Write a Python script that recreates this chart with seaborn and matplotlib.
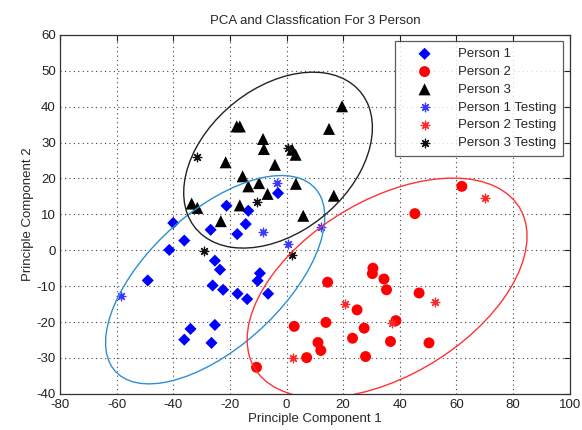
import numpy as np
import pandas as pd
import matplotlib
matplotlib.use("Agg")
import matplotlib.pyplot as plt
import seaborn as sns
from matplotlib.patches import Ellipse

# ---- data ----
p1_x = [-21.2, -13.5, -3.0, -40.0, -26.8, -14.4, -17.4, -36.1, -41.4, -25.3, -23.5, -9.4,
        -10.2, -49.0, -26.1, -22.4, -17.3, -13.9, -6.5, -33.9, -25.3, -36.1, -26.5]
p1_y = [12.4, 11.0, 15.9, 7.6, 5.7, 7.3, 4.5, 2.7, 0.1, -2.9, -5.4, -6.4,
        -8.5, -8.4, -9.8, -11.0, -12.1, -13.6, -12.1, -21.9, -20.8, -24.9, -25.8]

p2_x = [61.9, 45.3, 30.5, 30.3, 34.4, 35.3, 14.5, 46.8, 24.9, 2.7, 13.9, 38.6,
        27.4, 23.3, 36.7, 50.3, 11.1, 12.1, 7.1, 27.9, -10.6]
p2_y = [17.8, 10.2, -5.0, -6.5, -8.0, -11.0, -8.9, -11.9, -16.6, -21.2, -20.1, -19.6,
        -21.7, -24.5, -25.4, -25.8, -25.7, -27.9, -29.9, -29.6, -32.6]

p3_x = [-17.6, -16.5, -8.3, -8.0, 2.0, 3.2, -21.5, -4.1, -15.5, -13.5, -9.7, 3.3,
        -6.7, -33.5, -31.5, -16.5, 5.9, -23.2, 16.7, 19.6, 15.0]
p3_y = [34.5, 34.5, 31.0, 28.2, 28.0, 26.6, 24.5, 23.8, 20.6, 17.8, 18.7, 18.5,
        15.7, 13.0, 11.8, 12.5, 9.6, 8.1, 15.2, 40.1, 33.8]

t1_x = [-58.6, -3.5, -8.3, 12.0, 0.6]
t1_y = [-12.7, 18.7, 5.0, 6.6, 1.7]
t2_x = [69.9, 52.3, 20.8, 37.2, 2.3]
t2_y = [14.5, -14.5, -14.9, -20.3, -29.9]
t3_x = [-31.7, 0.4, -10.6, -29.1, 1.8]
t3_y = [26.0, 28.6, 13.4, -0.1, -1.4]

labels = ["Person 1", "Person 2", "Person 3",
          "Person 1 Testing", "Person 2 Testing", "Person 3 Testing"]

# ellipse parameters: centre x, centre y, width, height, angle (deg)
ell_cx = [-25.2, 35.5, -3.0]
ell_cy = [-8.2, -10.5, 25.1]
ell_w = [87.7, 104.4, 70.7]
ell_h = [40.8, 51.1, 42.9]
ell_ang = [32.1, 21.7, 24.9]
ell_col = ["#2b8fd6", "#ff3333", "#222222"]

x_ticks = list(range(-80, 101, 20))
y_ticks = list(range(-40, 61, 10))

# ---- build frame ----
groups = [(p1_x, p1_y), (p2_x, p2_y), (p3_x, p3_y), (t1_x, t1_y), (t2_x, t2_y), (t3_x, t3_y)]
rows = []
for lab, (xs, ys) in zip(labels, groups):
    for xv, yv in zip(xs, ys):
        rows.append({"pc1": xv, "pc2": yv, "group": lab})
df = pd.DataFrame(rows)

sns.set_style("white")
plt.rcParams["font.family"] = ["Liberation Sans", "DejaVu Sans"]

fig = plt.figure(figsize=(5.82, 4.30), dpi=100)
ax = fig.add_axes([0.103, 0.084, 0.876, 0.835])

styles = {
    "Person 1": dict(color="#0000ff", marker="D", s=38, edgecolor="none"),
    "Person 2": dict(color="#ff0000", marker="o", s=62, edgecolor="none"),
    "Person 3": dict(color="#000000", marker="^", s=75, edgecolor="none"),
    "Person 1 Testing": dict(color="#3a3aff", marker=(8, 2, 0), s=38, linewidth=0.9),
    "Person 2 Testing": dict(color="#ff2a2a", marker=(8, 2, 0), s=38, linewidth=0.9),
    "Person 3 Testing": dict(color="#111111", marker=(8, 2, 0), s=38, linewidth=0.9),
}
for lab in labels:
    sub = df[df["group"] == lab]
    sns.scatterplot(data=sub, x="pc1", y="pc2", ax=ax, label=lab, zorder=3, **styles[lab])

for cx, cy, w, h, a, c in zip(ell_cx, ell_cy, ell_w, ell_h, ell_ang, ell_col):
    ax.add_patch(Ellipse((cx, cy), w, h, angle=a, fill=False, edgecolor=c, linewidth=1.0, zorder=4))

ax.set_xlim(-80, 100)
ax.set_ylim(-40, 60)
ax.set_xticks(x_ticks)
ax.set_yticks(y_ticks)
ax.set_xticklabels([str(v) for v in x_ticks], fontsize=9.5)
ax.set_yticklabels([str(v) for v in y_ticks], fontsize=9.5)
ax.tick_params(direction="in", length=4, width=0.8, top=True, right=True, colors="#222222")
ax.tick_params(axis="x", pad=4)
ax.tick_params(axis="y", pad=3)
ax.grid(True, linestyle=(0, (1, 3)), color="#444444", linewidth=0.8)
for sp in ax.spines.values():
    sp.set_color("#333333")
    sp.set_linewidth(0.9)

ax.set_xlabel("Principle Component 1", fontsize=9.5, labelpad=1)
ax.set_ylabel("Principle Component 2", fontsize=9.5, labelpad=2)
ax.set_title("PCA and Classfication For 3 Person", fontsize=9.5, pad=8)

leg = ax.legend(loc="upper right", fontsize=9.5, frameon=True, fancybox=False,
                edgecolor="#333333", handlelength=3.5, handletextpad=0.8,
                labelspacing=0.42, borderpad=0.5, borderaxespad=0.5)
leg.get_frame().set_linewidth(0.9)

fig.savefig("out.png", dpi=100, facecolor="white")
